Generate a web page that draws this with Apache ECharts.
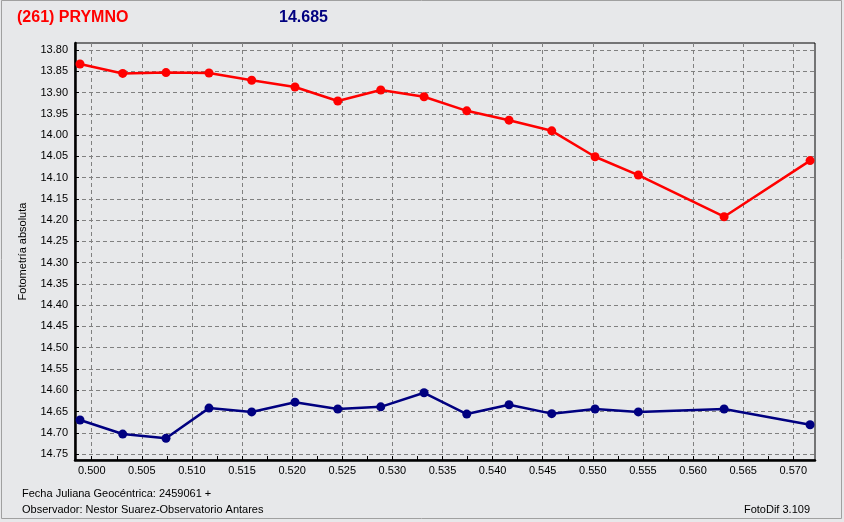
<!DOCTYPE html>
<html><head><meta charset="utf-8">
<script src="https://cdn.jsdelivr.net/npm/echarts@6/dist/echarts.min.js"></script>
<style>html,body{margin:0;padding:0;background:#e7e8ea;}#c{width:844px;height:522px;}</style>
</head><body><div id="c"></div>
<script>
var jdOffsets = [0.49883,0.50309,0.50741,0.51170,0.51596,0.52028,0.52455,0.52884,0.53316,0.53742,0.54164,0.54590,0.55022,0.55454,0.56310,0.57168];
var varStar = [13.833,13.855,13.853,13.854,13.871,13.887,13.920,13.894,13.910,13.943,13.965,13.990,14.051,14.094,14.192,14.060];
var compStar = [14.670,14.703,14.713,14.642,14.651,14.628,14.644,14.639,14.606,14.656,14.634,14.655,14.644,14.651,14.644,14.681];
var xTickLabels = [0.500,0.505,0.510,0.515,0.520,0.525,0.530,0.535,0.540,0.545,0.550,0.555,0.560,0.565,0.570];
var xMinorTicks = [0.4975,0.500,0.5025,0.505,0.5075,0.510,0.5125,0.515,0.5175,0.520,0.5225,0.525,0.5275,0.530,0.5325,0.535,0.5375,0.540,0.5425,0.545,0.5475,0.550,0.5525,0.555,0.5575,0.560,0.5625,0.565,0.5675,0.570];
var yTickLabels = [13.80,13.85,13.90,13.95,14.00,14.05,14.10,14.15,14.20,14.25,14.30,14.35,14.40,14.45,14.50,14.55,14.60,14.65,14.70,14.75];

var XMIN = 0.49833, XMAX = 0.57217, YMIN = 13.7835, YMAX = 14.764;
var font = '"Liberation Sans", Arial, sans-serif';
var chart = echarts.init(document.getElementById('c'), null, {renderer:'canvas'});
function pts(ys){ return jdOffsets.map(function(x,i){return [x, ys[i]];}); }
var minorInRange = xMinorTicks.filter(function(v){return v>XMIN && v<XMAX;});
chart.setOption({
  backgroundColor:'#e7e8ea',
  animation:false,
  grid:{left:75, top:43, right:29, bottom:62, show:true, borderColor:'#000', borderWidth:1, backgroundColor:'transparent'},
  graphic:[
    {type:'rect', shape:{x:1.5,y:0.5,width:840,height:518}, style:{fill:'none', stroke:'#a0a0a0', lineWidth:1}, silent:true, z:-1},
    {type:'text', left:17, top:10, style:{text:'(261) PRYMNO', fill:'#ff0000', font:'bold 16px '+font}},
    {type:'text', left:279, top:10, style:{text:'14.685', fill:'#000080', font:'bold 16px '+font}},
    {type:'text', left:22, top:488, style:{text:'Fecha Juliana Geocéntrica: 2459061 +', fill:'#000', font:'11px '+font}},
    {type:'text', left:22, top:504, style:{text:'Observador: Nestor Suarez-Observatorio Antares', fill:'#000', font:'11px '+font}},
    {type:'text', right:34, top:504, style:{text:'FotoDif 3.109', fill:'#000', font:'11px '+font}}
  ],
  xAxis:[
    {type:'value', min:XMIN, max:XMAX, position:'bottom',
     axisLine:{show:true, onZero:false, lineStyle:{color:'#000', width:2.5}},
     axisTick:{show:true, inside:true, length:4, customValues:xTickLabels, lineStyle:{color:'#000'}},
     axisLabel:{show:true, customValues:xTickLabels, formatter:function(v){return v.toFixed(3);}, color:'#000', fontSize:11, fontFamily:font, margin:5},
     splitLine:{show:true, lineStyle:{color:'#808080', type:[4,3], width:1}}},
    {type:'value', min:XMIN, max:XMAX, position:'bottom',
     axisLine:{show:false}, axisLabel:{show:false},
     axisTick:{show:true, inside:true, length:4, customValues:minorInRange, lineStyle:{color:'#000'}},
     splitLine:{show:false}}
  ],
  yAxis:{type:'value', inverse:true, min:YMIN, max:YMAX,
    name:'Fotometría absoluta', nameLocation:'middle', nameGap:47, nameTextStyle:{color:'#000', fontSize:11, fontFamily:font},
    axisLine:{show:true, onZero:false, lineStyle:{color:'#000', width:2.5}},
    axisTick:{show:true, inside:true, length:4, customValues:yTickLabels, lineStyle:{color:'#000'}},
    axisLabel:{customValues:yTickLabels, formatter:function(v){return v.toFixed(2);}, color:'#000', fontSize:11, fontFamily:font, margin:7},
    splitLine:{show:true, lineStyle:{color:'#808080', type:[4,3], width:1}}},
  series:[
    {type:'line', xAxisIndex:0, data:pts(varStar), symbol:'circle', symbolSize:9, itemStyle:{color:'#ff0000'}, lineStyle:{color:'#ff0000', width:2.5}},
    {type:'line', xAxisIndex:0, data:pts(compStar), symbol:'circle', symbolSize:9, itemStyle:{color:'#000080'}, lineStyle:{color:'#000080', width:2.5}}
  ]
});
</script></body></html>
